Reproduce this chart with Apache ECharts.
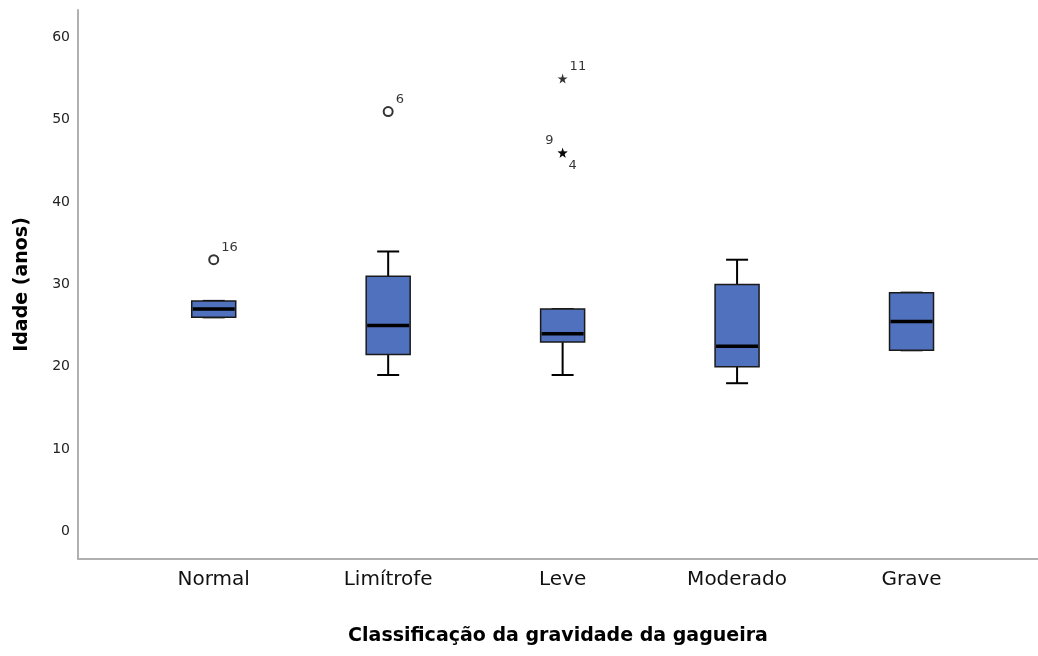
<!DOCTYPE html>
<html>
<head>
<meta charset="utf-8">
<script src="https://cdn.jsdelivr.net/npm/echarts@6/dist/echarts.min.js"></script>
<style>
  html, body { margin: 0; padding: 0; background: #fff; }
  #chart-container { width: 1038px; height: 656px; }
</style>
</head>
<body>
<div id="chart-container"></div>
<script>
// Classificação da gravidade da gagueira x Idade (anos)
const categories = ['Normal', 'Limítrofe', 'Leve', 'Moderado', 'Grave'];
const minValues = [26, 19, 19, 18, 22];
const q1Values = [26, 21.5, 23, 20, 22];
const medianValues = [27, 25, 24, 22.5, 25.5];
const q3Values = [28, 31, 27, 30, 29];
const maxValues = [28, 34, 27, 33, 29];
const yTicks = [0, 10, 20, 30, 40, 50, 60];

// outliers (circle) and extremes (star): [category index, value, case number]
const outliers = [[0, 33, '16'], [1, 51, '6']];
const extremes = [[2, 55, '11'], [2, 46, '9'], [2, 46, '4']];

document.addEventListener('DOMContentLoaded', () => {
    const chart = echarts.init(document.getElementById('chart-container'));
    const font = 'DejaVu Sans';
    const boxColor = '#5072be';

    const boxData = categories.map((c, i) => [i, minValues[i], q1Values[i], medianValues[i], q3Values[i], maxValues[i]]);

    // label placement for the case numbers
    const labelFor = id => {
        if (id === '9') return { position: 'left', distance: 4, offset: [0, -12] };
        if (id === '4') return { position: 'right', distance: 1, offset: [0, 13] };
        return { position: 'right', distance: 2, offset: [0, -12] };
    };

    const starPath = 'path://M50,0 L61,35 L98,35 L68,57 L79,91 L50,70 L21,91 L32,57 L2,35 L39,35 Z';

    const renderBox = (params, api) => {
        const x = api.value(0);
        const pMin = api.coord([x, api.value(1)]);
        const pQ1 = api.coord([x, api.value(2)]);
        const pMed = api.coord([x, api.value(3)]);
        const pQ3 = api.coord([x, api.value(4)]);
        const pMax = api.coord([x, api.value(5)]);
        const cx = pMed[0];
        const half = 22;
        const cap = 11;
        const line = (x1, y1, x2, y2, w) => ({
            type: 'line',
            shape: { x1, y1, x2, y2 },
            style: { stroke: '#000', lineWidth: w }
        });
        return {
            type: 'group',
            children: [
                line(cx, pMax[1], cx, pQ3[1], 2),
                line(cx, pQ1[1], cx, pMin[1], 2),
                line(cx - cap, pMax[1], cx + cap, pMax[1], 2),
                line(cx - cap, pMin[1], cx + cap, pMin[1], 2),
                {
                    type: 'rect',
                    shape: { x: cx - half, y: pQ3[1], width: half * 2, height: pQ1[1] - pQ3[1] },
                    style: { fill: boxColor, stroke: '#1a1a1a', lineWidth: 1.5 }
                },
                line(cx - half + 1, pMed[1], cx + half - 1, pMed[1], 3.5)
            ]
        };
    };

    const option = {
        backgroundColor: '#fff',
        animation: false,
        grid: { left: 78, right: 0, top: 10, bottom: 97 },
        xAxis: {
            type: 'value',
            min: -0.778,
            max: 4.725,
            name: 'Classificação da gravidade da gagueira',
            nameLocation: 'middle',
            nameGap: 68,
            nameTextStyle: { fontFamily: font, fontSize: 19, fontWeight: 'bold', color: '#000' },
            axisLine: { onZero: false, lineStyle: { color: '#b0b0b0', width: 2 } },
            axisTick: { show: false },
            splitLine: { show: false },
            axisLabel: {
                customValues: [0, 1, 2, 3, 4],
                formatter: v => categories[Math.round(v)],
                fontFamily: font,
                fontSize: 20,
                color: '#111',
                margin: 11
            }
        },
        yAxis: {
            type: 'value',
            min: -3.35,
            max: 63.33,
            name: 'Idade (anos)',
            nameLocation: 'middle',
            nameGap: 46,
            nameTextStyle: { fontFamily: font, fontSize: 19, fontWeight: 'bold', color: '#000' },
            axisLine: { show: true, onZero: false, lineStyle: { color: '#b0b0b0', width: 2 } },
            axisTick: { show: false },
            splitLine: { show: false },
            axisLabel: {
                customValues: yTicks,
                fontFamily: font,
                fontSize: 14,
                color: '#222',
                margin: 8
            }
        },
        series: [
            {
                type: 'custom',
                renderItem: renderBox,
                encode: { x: 0, y: [1, 2, 3, 4, 5] },
                data: boxData
            },
            {
                type: 'scatter',
                symbol: 'emptyCircle',
                symbolSize: 9,
                itemStyle: { color: '#000', borderColor: '#000', borderWidth: 1.3 },
                label: { show: true, fontFamily: font, fontSize: 13, color: '#000' },
                data: outliers.map(d => ({
                    value: [d[0], d[1]],
                    label: Object.assign({ formatter: d[2] }, labelFor(d[2]))
                }))
            },
            {
                type: 'scatter',
                symbol: starPath,
                symbolSize: 10,
                itemStyle: { color: '#000' },
                label: { show: true, fontFamily: font, fontSize: 13, color: '#000' },
                data: extremes.map(d => ({
                    value: [d[0], d[1]],
                    label: Object.assign({ formatter: d[2] }, labelFor(d[2]))
                }))
            }
        ]
    };

    chart.setOption(option);
});
</script>
</body>
</html>
